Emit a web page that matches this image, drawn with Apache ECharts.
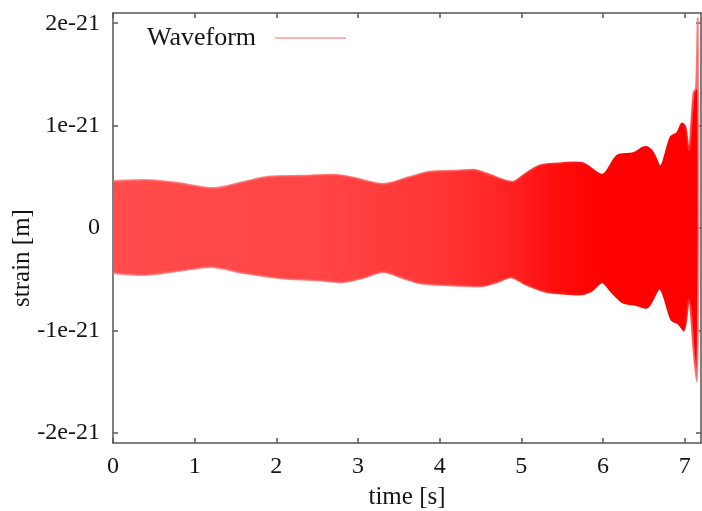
<!DOCTYPE html>
<html>
<head>
<meta charset="utf-8">
<script src="https://cdn.jsdelivr.net/npm/echarts@6/dist/echarts.min.js"></script>
<style>
  html, body { margin: 0; padding: 0; background: #fff; }
  #chart { width: 702px; height: 511px; }
</style>
</head>
<body>
<div id="chart"></div>
<script>
// envelope of the waveform (strain in units of 1e-21)
const upperTime = [0, 0.4, 0.8, 1.23, 1.6, 1.9, 2.3, 2.7, 2.95, 3.31, 3.6, 3.88, 4.2, 4.41, 4.58, 4.89,
  5.05, 5.23, 5.45, 5.64, 5.76, 5.99, 6.18, 6.37, 6.52, 6.61, 6.7, 6.83, 6.91, 6.97, 7.01, 7.05,
  7.11, 7.14, 7.16, 7.17]
const upperStrain = [0.46, 0.47, 0.44, 0.39, 0.45, 0.5, 0.51, 0.52, 0.49, 0.43, 0.49, 0.55, 0.56, 0.57, 0.53, 0.45,
  0.53, 0.61, 0.63, 0.64, 0.63, 0.52, 0.71, 0.73, 0.79, 0.74, 0.6, 0.89, 0.93, 1.02, 0.98, 0.76,
  1.32, 1.37, 2.05, 0]

const lowerTime = [0, 0.35, 0.8, 1.2, 1.6, 2.05, 2.5, 2.78, 3.05, 3.31, 3.55, 3.76, 4.1, 4.5, 4.7, 4.87,
  5.05, 5.29, 5.5, 5.7, 5.85, 5.99, 6.1, 6.25, 6.4, 6.53, 6.69, 6.84, 6.92, 6.99, 7.05, 7.12,
  7.15, 7.17]
const lowerStrain = [-0.44, -0.46, -0.42, -0.38, -0.44, -0.49, -0.51, -0.53, -0.49, -0.43, -0.49, -0.54, -0.56, -0.57, -0.53, -0.48,
  -0.55, -0.62, -0.64, -0.65, -0.62, -0.53, -0.62, -0.73, -0.75, -0.78, -0.59, -0.9, -0.93, -1.0, -0.7, -1.29,
  -1.5, 0]

const xTicks = [0, 1, 2, 3, 4, 5, 6, 7]
const yTicks = [-2, -1, 0, 1, 2]

const FONT = '"Liberation Serif", "Times New Roman", serif'
const AXIS_COLOR = '#555'
const TEXT_COLOR = '#151515'

const fill = () => new echarts.graphic.LinearGradient(0, 0, 1, 0, [
  { offset: 0, color: '#ff4c4c' },
  { offset: 0.35, color: '#ff4545' },
  { offset: 0.56, color: '#ff3535' },
  { offset: 0.68, color: '#ff2222' },
  { offset: 0.76, color: '#ff0c0c' },
  { offset: 0.84, color: '#ff0000' },
  { offset: 1, color: '#ff0000' },
])
// softer rim along the envelope, fading out where the signal gets dense
const rim = () => new echarts.graphic.LinearGradient(0, 0, 1, 0, [
  { offset: 0, color: 'rgba(255,110,110,0.8)' },
  { offset: 0.6, color: 'rgba(255,80,80,0.8)' },
  { offset: 0.84, color: 'rgba(255,0,0,1)' },
  { offset: 0.97, color: 'rgba(255,0,0,1)' },
  { offset: 1, color: 'rgba(255,150,150,0.9)' },
])

const pairs = (xs, ys) => xs.map((x, i) => [x, ys[i]])

const chart = echarts.init(document.getElementById('chart'), null, { renderer: 'canvas' })

const xAxisBase = {
  type: 'value',
  min: 0,
  max: 7.2,
  splitLine: { show: false },
  axisLine: { show: true, onZero: false, lineStyle: { color: AXIS_COLOR, width: 1.5 } },
  axisTick: { show: true, inside: true, length: 5, customValues: xTicks, lineStyle: { color: AXIS_COLOR, width: 1.5 } },
}
const yAxisBase = {
  type: 'value',
  min: -2.1,
  max: 2.1,
  splitLine: { show: false },
  axisLine: { show: true, onZero: false, lineStyle: { color: AXIS_COLOR, width: 1.5 } },
  axisTick: { show: true, inside: true, length: 5, customValues: yTicks, lineStyle: { color: AXIS_COLOR, width: 1.5 } },
}

chart.setOption({
  animation: false,
  backgroundColor: '#fff',
  grid: { left: 113, right: 1, top: 13, bottom: 68, containLabel: false, outerBoundsMode: 'none' },
  legend: {
    left: 142,
    top: 20,
    align: 'right',
    itemWidth: 71,
    itemHeight: 2,
    selectedMode: false,
    textStyle: { fontFamily: FONT, fontSize: 26, color: TEXT_COLOR, padding: [0, 14, 0, 0] },
    data: [{ name: 'Waveform', icon: 'rect', itemStyle: { color: '#ffb0b0' } }],
  },
  xAxis: [
    {
      ...xAxisBase,
      position: 'bottom',
      name: 'time [s]',
      nameLocation: 'middle',
      nameGap: 42,
      nameTextStyle: { fontFamily: FONT, fontSize: 25, color: TEXT_COLOR },
      axisLabel: {
        customValues: xTicks,
        margin: 12,
        fontFamily: FONT, fontSize: 24, color: TEXT_COLOR,
      },
    },
    { ...xAxisBase, position: 'top', axisLabel: { show: false } },
  ],
  yAxis: [
    {
      ...yAxisBase,
      position: 'left',
      axisLabel: {
        customValues: yTicks,
        margin: 13,
        fontFamily: FONT, fontSize: 24, color: TEXT_COLOR,
        formatter: v => (v === 0 ? '0' : v + 'e-21'),
      },
    },
    { ...yAxisBase, position: 'right', axisLabel: { show: false } },
  ],
  graphic: [{
    type: 'text',
    x: 22,
    y: 258,
    rotation: Math.PI / 2,
    style: {
      text: 'strain [m]',
      fontFamily: FONT,
      fontSize: 25,
      fill: TEXT_COLOR,
      align: 'center',
      verticalAlign: 'middle',
    },
  }],
  series: [
    {
      name: 'Waveform',
      type: 'line',
      data: pairs(upperTime, upperStrain),
      symbol: 'none',
      smooth: 0.3,
      lineStyle: { width: 2, color: rim() },
      areaStyle: { color: fill(), opacity: 1, origin: -0.05 },
      itemStyle: { color: '#ff0000' },
    },
    {
      name: 'lower',
      type: 'line',
      data: pairs(lowerTime, lowerStrain),
      symbol: 'none',
      smooth: 0.3,
      lineStyle: { width: 2, color: rim() },
      areaStyle: { color: fill(), opacity: 1, origin: 0.05 },
      itemStyle: { color: '#ff0000' },
    },
  ],
})
</script>
</body>
</html>
